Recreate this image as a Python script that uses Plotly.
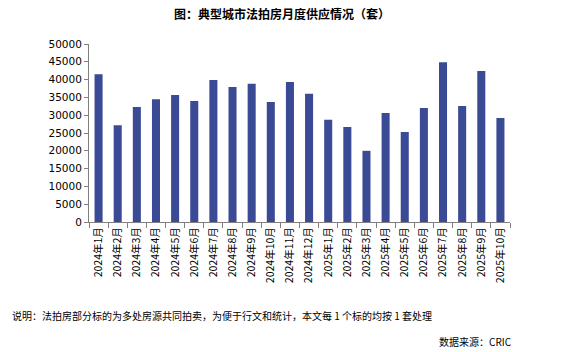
import plotly.graph_objects as go

months = ["2024年1月", "2024年2月", "2024年3月", "2024年4月", "2024年5月", "2024年6月",
          "2024年7月", "2024年8月", "2024年9月", "2024年10月", "2024年11月", "2024年12月",
          "2025年1月", "2025年2月", "2025年3月", "2025年4月", "2025年5月", "2025年6月",
          "2025年7月", "2025年8月", "2025年9月", "2025年10月"]
supply = [41500, 27200, 32300, 34500, 35700, 34000,
          39900, 37900, 38800, 33700, 39300, 36000,
          28700, 26700, 20000, 30600, 25300, 32000,
          44900, 32600, 42400, 29200]
y_ticks = [0, 5000, 10000, 15000, 20000, 25000, 30000, 35000, 40000, 45000, 50000]
y_tick_labels = [str(v) for v in y_ticks]

FONT = "Tahoma, Verdana, 'DejaVu Sans', 'Noto Sans CJK SC', sans-serif"
CJK = "'Noto Sans CJK SC', 'DejaVu Sans', sans-serif"

fig = go.Figure(go.Bar(x=months, y=supply, marker_color="#3a4a94", marker_line_width=0))

fig.update_layout(
    width=564, height=352,
    margin=dict(l=89, r=54, t=44, b=130),
    plot_bgcolor="white", paper_bgcolor="white",
    bargap=0.58,
    showlegend=False,
    font=dict(family=FONT, size=10, color="#000000"),
    title=dict(text="<b>图：典型城市法拍房月度供应情况（套）</b>", x=0.5, xanchor="center",
               y=0.957, yanchor="middle", font=dict(family=CJK, size=12, color="#000")),
)
fig.update_yaxes(range=[0, 50000], tickvals=y_ticks, ticktext=y_tick_labels, showline=True,
                 linecolor="#808080", linewidth=1, ticks="outside", ticklen=4,
                 tickcolor="#808080", showgrid=False, zeroline=False,
                 tickfont=dict(family=FONT, size=10.5))
fig.update_xaxes(showline=True, linecolor="#808080", linewidth=1, ticks="outside",
                 ticklen=5, tickcolor="#808080", tickson="boundaries", tickangle=-90,
                 showgrid=False, tickfont=dict(family=CJK, size=10.5))

fig.add_annotation(text="说明：法拍房部分标的为多处房源共同拍卖，为便于行文和统计，本文每 1 个标的均按 1 套处理",
                   xref="paper", yref="paper", x=(10 - 89) / 421, y=(222 - 315) / 178,
                   xanchor="left", yanchor="middle", showarrow=False,
                   font=dict(family=CJK, size=10, color="#000"))
fig.add_annotation(text="数据来源：CRIC", xref="paper", yref="paper",
                   x=(514 - 89) / 421, y=(222 - 341) / 178,
                   xanchor="right", yanchor="middle", showarrow=False,
                   font=dict(family=CJK, size=10, color="#000"))

fig.write_html("out.html")
